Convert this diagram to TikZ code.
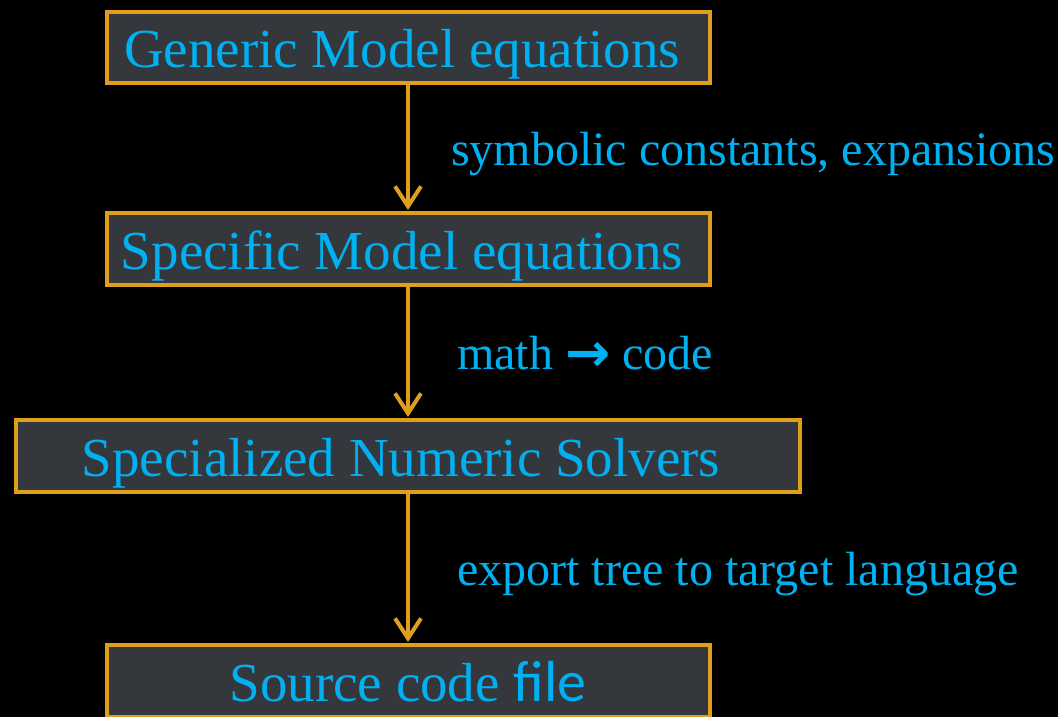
\documentclass[tikz,border=0pt]{standalone}
\usepackage{fontspec}
\setmainfont{Liberation Serif}
\newfontfamily\carl{Carlito}
\newfontfamily\djv{DejaVu Sans}
\usetikzlibrary{arrows.meta}
\definecolor{bordc}{HTML}{E09E1E}
\definecolor{boxc}{HTML}{34373C}
\definecolor{txtc}{HTML}{00B0F0}
\tikzset{
  box/.style={draw=bordc, line width=4pt, fill=boxc, rectangle, inner sep=0pt},
  boxtext/.style={text=txtc, font=\fontsize{55}{60}\selectfont, anchor=base, inner sep=0pt},
  lbl/.style={text=txtc, font=\fontsize{48}{52}\selectfont, anchor=base west, inner sep=0pt},
  conn/.style={draw=bordc, line width=4pt, -{Straight Barb[length=20pt,width=26pt,line width=4pt]}, shorten >=1pt}
}
\begin{document}
\begin{tikzpicture}[x=1pt,y=-1pt]
\fill[black] (0,0) rectangle (1058,717);
\useasboundingbox (0,0) rectangle (1058,717);
\begin{scope}
\clip (0,0) rectangle (1058,717);
\node[box, minimum width=603pt, minimum height=71pt] (b1) at (408.5,47.5) {};
\node[box, minimum width=603pt, minimum height=72pt] (b2) at (408.5,249) {};
\node[box, minimum width=784pt, minimum height=72pt] (b3) at (408,456) {};
\node[box, minimum width=603pt, minimum height=72pt] (b4) at (408.5,681) {};

\node[boxtext] (t1) at (402,67) {Generic Model equations};
\node[boxtext] (t2) at (402,269) {Specific Model equations};
\node[boxtext] (t3) at (401,476) {Specialized Numeric Solvers};
\node[boxtext] (t4) at (408,701) {Source code {\carl\fontsize{58}{60}\selectfont file}};

\draw[conn] (b1.south -| 408,0) -- (b2.north -| 408,0);
\draw[conn] (b2.south -| 408,0) -- (b3.north -| 408,0);
\draw[conn] (b3.south -| 408,0) -- (b4.north -| 408,0);

\node[lbl] (l1) at (451,165) {symbolic constants, expansions};
\node[lbl] (l2) at (457,369) {math {\djv\bfseries\fontsize{54}{56}\selectfont\raisebox{-2pt}{→}} code};
\node[lbl] (l3) at (457,585) {export tree to target language};
\end{scope}
\end{tikzpicture}
\end{document}
